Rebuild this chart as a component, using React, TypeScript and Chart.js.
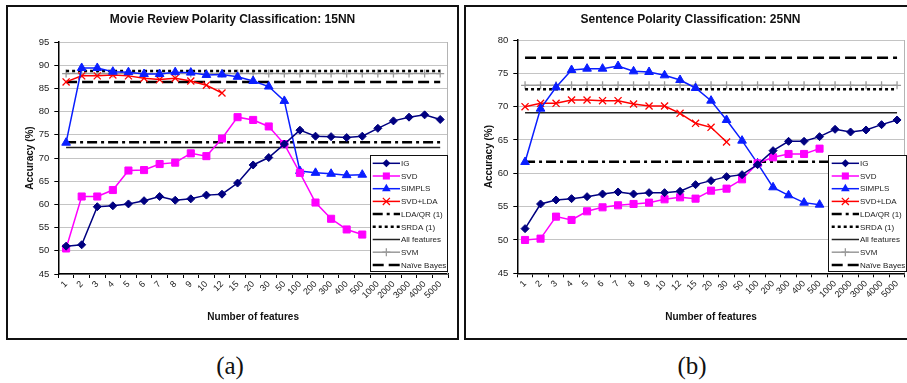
import React, { useEffect, useRef } from 'react';
import { Chart, registerables } from 'chart.js';

Chart.register(...registerables);

const FONT = '"Liberation Sans", Arial, sans-serif';

// ---------- data ----------
const categories = ['1', '2', '3', '4', '5', '6', '7', '8', '9', '10', '12', '15', '20', '30', '50', '100', '200', '300', '400', '500', '1000', '2000', '3000', '4000', '5000'];

const seriesNames = ['IG', 'SVD', 'SIMPLS', 'SVD+LDA', 'LDA/QR (1)', 'SRDA (1)', 'All features', 'SVM', 'Naïve Bayes'];

// (a) Movie Review Polarity Classification: 15NN
const igA = [51.0, 51.3, 59.5, 59.7, 60.1, 60.8, 61.7, 60.9, 61.2, 62.0, 62.2, 64.6, 68.5, 70.1, 73.0, 76.0, 74.7, 74.6, 74.4, 74.7, 76.4, 78.0, 78.8, 79.3, 78.3];
const svdA = [50.5, 61.7, 61.7, 63.1, 67.3, 67.4, 68.7, 69.0, 71.0, 70.4, 74.2, 78.8, 78.2, 76.8, 73.0, 66.8, 60.4, 56.9, 54.6, 53.5];
const simplsA = [73.3, 89.4, 89.4, 88.6, 88.5, 88.1, 88.1, 88.5, 88.4, 87.9, 88.0, 87.5, 86.6, 85.4, 82.3, 67.2, 66.8, 66.6, 66.3, 66.4];
const svdLdaA = [86.4, 87.7, 87.7, 87.9, 87.7, 87.2, 86.9, 87.2, 86.6, 85.7, 84.0];
const ldaQrA = 73.4;
const srdaA = 88.75;
const allFeatA = 72.25;
const svmA = 88.2;
const naiveBayesA = 86.4;
const yTicksA = { min: 45, max: 95, step: 5 };

// (b) Sentence Polarity Classification: 25NN
const igB = [51.7, 55.4, 56.0, 56.2, 56.5, 56.9, 57.2, 56.9, 57.1, 57.1, 57.3, 58.3, 58.9, 59.5, 59.8, 61.3, 63.4, 64.8, 64.8, 65.5, 66.6, 66.2, 66.5, 67.3, 68.0];
const svdB = [50.0, 50.2, 53.5, 53.0, 54.3, 54.9, 55.2, 55.4, 55.6, 56.1, 56.4, 56.2, 57.4, 57.7, 59.1, 61.5, 62.4, 62.9, 62.9, 63.7];
const simplsB = [61.7, 69.7, 72.9, 75.5, 75.7, 75.7, 76.1, 75.3, 75.2, 74.7, 74.0, 72.8, 70.9, 68.0, 64.9, 61.5, 57.9, 56.7, 55.6, 55.3];
const svdLdaB = [70.0, 70.5, 70.5, 71.0, 71.0, 70.9, 70.9, 70.4, 70.1, 70.1, 69.0, 67.5, 66.9, 64.7];
const ldaQrB = 61.75;
const srdaB = 72.6;
const allFeatB = 69.1;
const svmB = 73.2;
const naiveBayesB = 77.35;
const yTicksB = { min: 45, max: 80, step: 5 };

// ---------- styles ----------
const NAVY = '#000080';
const MAGENTA = '#ff00ff';
const BLUE = '#0a1eff';
const RED = '#ff0000';
const GRAY = '#9a9a9a';
const BLACK = '#000000';

type LegendStyle = { color: string; width: number; dash: number[]; marker: string | null; r: number };

const styles: LegendStyle[] = [
  { color: NAVY, width: 1.5, dash: [], marker: 'rectRot', r: 4 },
  { color: MAGENTA, width: 1.5, dash: [], marker: 'rect', r: 5 },
  { color: BLUE, width: 1.5, dash: [], marker: 'triangle', r: 5 },
  { color: RED, width: 1.5, dash: [], marker: 'crossRot', r: 5 },
  { color: BLACK, width: 2.5, dash: [10, 4, 3, 4], marker: null, r: 0 },
  { color: BLACK, width: 2.5, dash: [3, 3], marker: null, r: 0 },
  { color: '#222', width: 1.5, dash: [], marker: null, r: 0 },
  { color: GRAY, width: 1.5, dash: [], marker: 'cross', r: 4 },
  { color: BLACK, width: 2.5, dash: [11, 5], marker: null, r: 0 },
];

function drawMarker(ctx: CanvasRenderingContext2D, style: string, x: number, y: number, r: number, color: string) {
  ctx.save();
  ctx.setLineDash([]);
  ctx.fillStyle = color;
  ctx.strokeStyle = color;
  ctx.lineWidth = 1.3;
  ctx.beginPath();
  if (style === 'rectRot') {
    ctx.moveTo(x, y - r); ctx.lineTo(x + r, y); ctx.lineTo(x, y + r); ctx.lineTo(x - r, y); ctx.closePath();
    ctx.fill();
  } else if (style === 'rect') {
    const s = r * Math.SQRT1_2;
    ctx.rect(x - s, y - s, 2 * s, 2 * s);
    ctx.fill();
  } else if (style === 'triangle') {
    let a = 0;
    ctx.moveTo(x + Math.sin(a) * r, y - Math.cos(a) * r);
    a += (2 * Math.PI) / 3;
    ctx.lineTo(x + Math.sin(a) * r, y - Math.cos(a) * r);
    a += (2 * Math.PI) / 3;
    ctx.lineTo(x + Math.sin(a) * r, y - Math.cos(a) * r);
    ctx.closePath();
    ctx.fill();
  } else if (style === 'crossRot') {
    const d = r * Math.SQRT1_2;
    ctx.moveTo(x - d, y - d); ctx.lineTo(x + d, y + d);
    ctx.moveTo(x - d, y + d); ctx.lineTo(x + d, y - d);
    ctx.stroke();
  } else if (style === 'cross') {
    ctx.moveTo(x, y - r); ctx.lineTo(x, y + r);
    ctx.moveTo(x - r, y); ctx.lineTo(x + r, y);
    ctx.stroke();
  }
  ctx.restore();
}

type PanelCfg = {
  title: string;
  ig: number[]; svd: number[]; simpls: number[]; svdLda: number[];
  ldaQr: number; srda: number; allFeat: number; svm: number; nb: number;
  yTicks: { min: number; max: number; step: number };
  plot: { left: number; right: number; top: number; bottom: number };
  legend: { x: number; y: number; w: number; h: number; sx0: number; sx1: number; tx: number };
  yTitleX: number;
};

const W = 453;
const H = 335;

const decor = {
  id: 'decor',
  beforeDraw(chart: any, _a: any, o: any) {
    const ctx = chart.ctx as CanvasRenderingContext2D;
    ctx.save();
    ctx.fillStyle = '#fff';
    ctx.fillRect(0, 0, chart.width, chart.height);
    ctx.restore();
  },
  beforeDatasetsDraw(chart: any) {
    const ctx = chart.ctx as CanvasRenderingContext2D;
    const a = chart.chartArea;
    ctx.save();
    ctx.strokeStyle = '#b4b4b4';
    ctx.lineWidth = 1;
    ctx.beginPath();
    ctx.moveTo(Math.round(a.right) - 0.5, a.top);
    ctx.lineTo(Math.round(a.right) - 0.5, a.bottom);
    ctx.stroke();
    ctx.restore();
  },
  afterDraw(chart: any, _a: any, o: any) {
    const ctx = chart.ctx as CanvasRenderingContext2D;
    const a = chart.chartArea;
    ctx.save();
    // panel border
    ctx.strokeStyle = '#111';
    ctx.lineWidth = 2;
    ctx.strokeRect(1, 1, chart.width - 2, chart.height - 2);
    // title
    ctx.fillStyle = '#111';
    ctx.textAlign = 'center';
    ctx.textBaseline = 'middle';
    ctx.font = `bold 12px ${FONT}`;
    ctx.fillText(o.title, chart.width / 2, 15);
    // axis titles
    ctx.font = `bold 10px ${FONT}`;
    ctx.fillText(o.xTitle, (a.left + a.right) / 2, 312);
    ctx.save();
    ctx.translate(o.yTitleX, (a.top + a.bottom) / 2);
    ctx.rotate(-Math.PI / 2);
    ctx.fillText(o.yTitle, 0, 0);
    ctx.restore();
    // legend
    const L = o.legend;
    ctx.fillStyle = '#fff';
    ctx.fillRect(L.x, L.y, L.w, L.h);
    ctx.strokeStyle = '#111';
    ctx.lineWidth = 1;
    ctx.strokeRect(L.x + 0.5, L.y + 0.5, L.w - 1, L.h - 1);
    const step = 12.7;
    o.names.forEach((name: string, i: number) => {
      const st: LegendStyle = styles[i];
      const y = L.y + 8.3 + i * step;
      ctx.save();
      ctx.strokeStyle = st.color;
      ctx.lineWidth = st.width;
      ctx.setLineDash(st.dash);
      ctx.beginPath();
      ctx.moveTo(L.x + L.sx0, y);
      ctx.lineTo(L.x + L.sx1, y);
      ctx.stroke();
      ctx.restore();
      if (st.marker) drawMarker(ctx, st.marker, L.x + (L.sx0 + L.sx1) / 2, y, st.r, st.color);
      ctx.fillStyle = '#222';
      ctx.font = `8px ${FONT}`;
      ctx.textAlign = 'left';
      ctx.textBaseline = 'middle';
      ctx.fillText(name, L.x + L.tx, y + 0.5);
    });
    ctx.restore();
  },
};

function buildConfig(cfg: PanelCfg): any {
  const flat = (v: number) => categories.map(() => v);
  const ds = (label: string, data: number[], i: number, extra: any = {}) => {
    const st = styles[i];
    return {
      label,
      data,
      borderColor: st.color,
      backgroundColor: st.color,
      borderWidth: st.width,
      borderDash: st.dash,
      pointStyle: st.marker || 'circle',
      pointRadius: st.marker ? st.r : 0,
      pointBorderColor: st.color,
      pointBackgroundColor: st.color,
      pointBorderWidth: st.marker === 'crossRot' || st.marker === 'cross' ? 1.3 : 1,
      pointHoverRadius: 0,
      tension: 0,
      fill: false,
      ...extra,
    };
  };
  return {
    type: 'line',
    data: {
      labels: categories,
      datasets: [
        ds(seriesNames[0], cfg.ig, 0),
        ds(seriesNames[1], cfg.svd, 1),
        ds(seriesNames[2], cfg.simpls, 2),
        ds(seriesNames[3], cfg.svdLda, 3),
        ds(seriesNames[4], flat(cfg.ldaQr), 4),
        ds(seriesNames[5], flat(cfg.srda), 5),
        ds(seriesNames[6], flat(cfg.allFeat), 6),
        ds(seriesNames[7], flat(cfg.svm), 7),
        ds(seriesNames[8], flat(cfg.nb), 8),
      ],
    },
    options: {
      animation: false,
      responsive: false,
      devicePixelRatio: 1,
      events: [],
      layout: { padding: { left: 0, right: W - cfg.plot.right, top: cfg.plot.top, bottom: 0 } },
      plugins: {
        legend: { display: false },
        title: { display: false },
        tooltip: { enabled: false },
        decor: {
          title: cfg.title,
          xTitle: 'Number of features',
          yTitle: 'Accuracy (%)',
          yTitleX: cfg.yTitleX,
          names: seriesNames,
          legend: cfg.legend,
        },
      },
      scales: {
        x: {
          type: 'category',
          offset: true,
          grid: { display: true, drawOnChartArea: false, offset: true, color: '#000', tickLength: 4, lineWidth: 1 },
          border: { display: true, color: '#000', width: 1.5 },
          ticks: {
            autoSkip: false,
            maxRotation: 45,
            minRotation: 45,
            padding: 1,
            color: '#222',
            font: { family: FONT, size: 9 },
          },
          afterFit: (s: any) => { s.height = H - cfg.plot.bottom; },
        },
        y: {
          min: cfg.yTicks.min,
          max: cfg.yTicks.max,
          grid: { color: '#c4c4c4', lineWidth: 1, tickColor: '#000', tickLength: 4 },
          border: { display: true, color: '#000', width: 1.5 },
          ticks: {
            stepSize: cfg.yTicks.step,
            padding: 5,
            color: '#222',
            font: { family: FONT, size: 9.5 },
          },
          afterFit: (s: any) => { s.width = cfg.plot.left; },
        },
      },
    },
    plugins: [decor],
  };
}

function Panel({ cfg, left }: { cfg: PanelCfg; left: number }) {
  const ref = useRef<HTMLCanvasElement | null>(null);
  useEffect(() => {
    if (!ref.current) return;
    const chart = new Chart(ref.current, buildConfig(cfg));
    return () => chart.destroy();
  }, [cfg]);
  return (
    <div style={{ position: 'absolute', left, top: 5, width: W, height: H }}>
      <canvas ref={ref} width={W} height={H} style={{ display: 'block', width: W, height: H }} />
    </div>
  );
}

const cfgA: PanelCfg = {
  title: 'Movie Review Polarity Classification: 15NN',
  ig: igA, svd: svdA, simpls: simplsA, svdLda: svdLdaA,
  ldaQr: ldaQrA, srda: srdaA, allFeat: allFeatA, svm: svmA, nb: naiveBayesA,
  yTicks: yTicksA,
  plot: { left: 52.3, right: 442, top: 37, bottom: 269 },
  legend: { x: 364, y: 150, w: 78, h: 117, sx0: 2.7, sx1: 30, tx: 31 },
  yTitleX: 24,
};

const cfgB: PanelCfg = {
  title: 'Sentence Polarity Classification: 25NN',
  ig: igB, svd: svdB, simpls: simplsB, svdLda: svdLdaB,
  ldaQr: ldaQrB, srda: srdaB, allFeat: allFeatB, svm: svmB, nb: naiveBayesB,
  yTicks: yTicksB,
  plot: { left: 53.3, right: 440.8, top: 35, bottom: 268.3 },
  legend: { x: 364, y: 150, w: 79, h: 117, sx0: 3.7, sx1: 31, tx: 32 },
  yTitleX: 25,
};

const captionStyle: React.CSSProperties = {
  position: 'absolute',
  top: 352,
  width: 100,
  textAlign: 'center',
  fontFamily: '"Liberation Serif", "DejaVu Serif", serif',
  fontSize: 25,
  lineHeight: '27px',
  color: '#111',
};

export default function App() {
  return (
    <div style={{ position: 'fixed', left: 0, top: 0, width: 907, height: 383, overflow: 'hidden', background: '#fff' }}>
      <Panel cfg={cfgA} left={6} />
      <Panel cfg={cfgB} left={464} />
      <div style={{ ...captionStyle, left: 230 - 50 }}>(a)</div>
      <div style={{ ...captionStyle, left: 692 - 50 }}>(b)</div>
    </div>
  );
}
